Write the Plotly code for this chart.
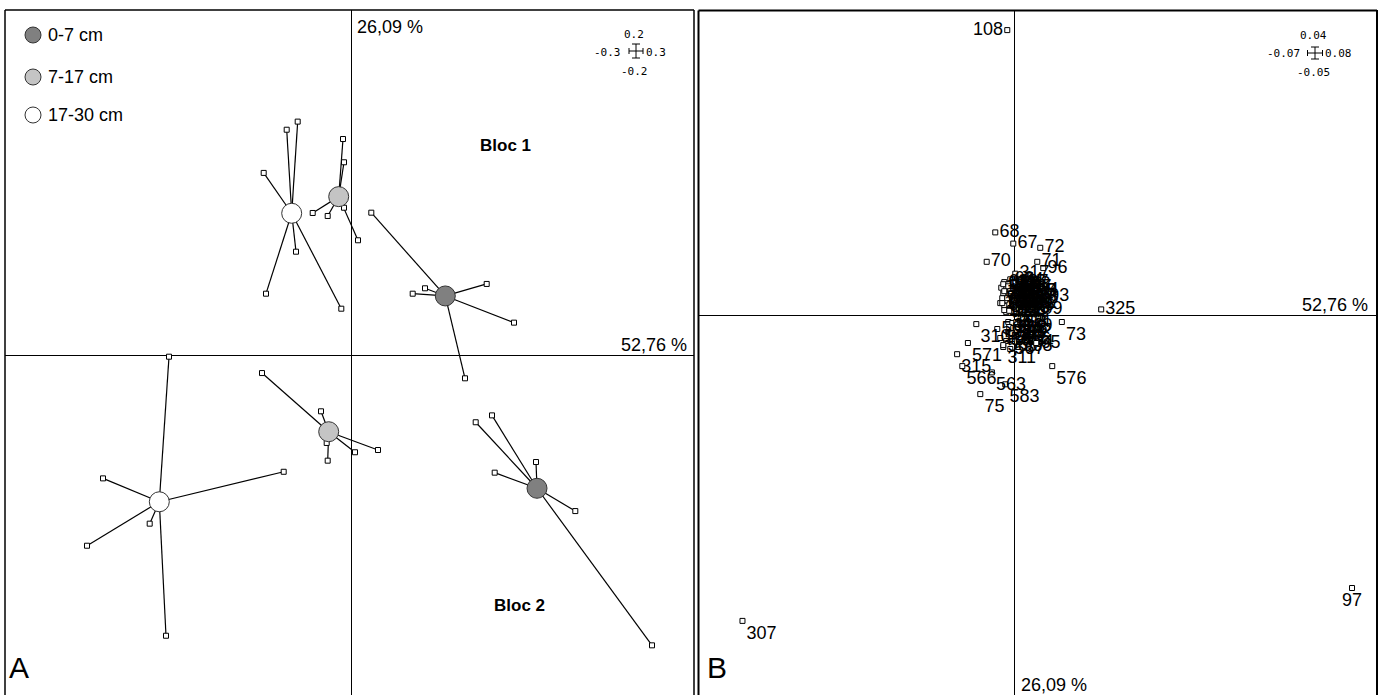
import plotly.graph_objects as go

W, H = 1380, 695

# ---------------- Panel A : s.class of samples by depth, two blocs ----------------
depths = ["0-7 cm", "7-17 cm", "17-30 cm"]
depth_colors = ["#808080", "#c4c4c4", "#ffffff"]

# Bloc 1 (upper half) -- class centres (F1, F2) for 0-7, 7-17, 17-30 cm
b1_centre_x = [0.0938, -0.0128, -0.0598]
b1_centre_y = [0.0397, 0.1059, 0.0948]
b1_d1_x = [0.0198, 0.0735, 0.0612, 0.1352, 0.1625, 0.1135]
b1_d1_y = [0.0952, 0.0448, 0.0412, 0.0477, 0.0219, -0.0152]
b1_d2_x = [-0.0085, -0.0075, -0.0388, -0.0238, -0.0075, 0.0065]
b1_d2_y = [0.1443, 0.1288, 0.0950, 0.0930, 0.0985, 0.0768]
b1_d3_x = [-0.0648, -0.0538, -0.0878, -0.0555, -0.0855, -0.0102]
b1_d3_y = [0.1505, 0.1559, 0.1217, 0.0692, 0.0412, 0.0312]

# Bloc 2 (lower half)
b2_centre_x = [0.1855, -0.0228, -0.1922]
b2_centre_y = [-0.0885, -0.0508, -0.0975]
b2_d1_x = [0.1242, 0.1405, 0.1845, 0.1432, 0.2238, 0.3005]
b2_d1_y = [-0.0445, -0.0399, -0.0710, -0.0781, -0.1037, -0.1932]
b2_d2_x = [-0.0895, -0.0305, -0.0248, -0.0238, 0.0035, 0.0265]
b2_d2_y = [-0.0117, -0.0372, -0.0583, -0.0701, -0.0645, -0.0630]
b2_d3_x = [-0.1825, -0.2485, -0.2645, -0.2018, -0.1855, -0.0678]
b2_d3_y = [-0.0008, -0.0819, -0.1268, -0.1121, -0.1868, -0.0775]

axis_pct_x = "52,76 %"
axis_pct_y = "26,09 %"

# ---------------- Panel B : s.label of rows ----------------
# outer, readable points
b_out_labels = ["108", "68", "67", "72", "70", "71", "96", "317", "197", "93", "325"]
b_out_x = [-0.00175, -0.00475, -0.00025, 0.0065, -0.0069, 0.00575, 0.00725, 0.00025, 0.0, 0.00775, 0.02175]
b_out_y = [0.0407, 0.0118, 0.0102, 0.0096, 0.0076, 0.0076, 0.0067, 0.0059, 0.0046, 0.0027, 0.0008]

# dense core above the F1 axis
b_up_labels = ["64", "69", "74", "76", "77", "78", "79", "80", "81", "82", "83", "84", "85",
               "86", "87", "88", "89", "90", "91", "92", "94", "95", "98", "99", "100",
               "102", "103", "104", "105", "106", "107", "109", "110", "111", "112",
               "113", "114", "115", "116", "117", "118", "119", "120", "121", "122",
               "123", "124", "125", "126", "127"]
b_up_x = [-0.0025, -0.001, 0.00125, -0.002, -0.00025, 0.002, -0.00275, -0.00125, 0.00075, 0.003,
          -0.00225, -0.0005, 0.0015, 0.0035, -0.0025, -0.001, 0.001, 0.00275, -0.002, 0.0, 0.002,
          0.004, 0.0045, -0.003, -0.00325,
          -0.0015, 0.0005, 0.0025, -0.0035, -0.001, 0.0015, 0.0035, -0.0025, 0.0005, 0.0025,
          -0.00275, -0.0015, -0.00025, -0.0025, -0.001, 0.00025, -0.00175, -0.00025, 0.00125, -0.00125,
          0.0005, -0.003, 0.00175, 0.0025, 0.00075]
b_up_y = [0.0047, 0.0051, 0.0049, 0.0040, 0.0037, 0.0040, 0.0031, 0.0029, 0.0031, 0.0029,
          0.0021, 0.0019, 0.0021, 0.0020, 0.0013, 0.0010, 0.0013, 0.0010, 0.0004, 0.0006, 0.0004,
          0.0014, 0.0033, 0.0024, 0.0039,
          0.0044, 0.0043, 0.0035, 0.0017, 0.0025, 0.0026, 0.0008, 0.0007, 0.0017, 0.0016,
          0.0044, 0.0041, 0.0046, 0.0034, 0.0034, 0.0027, 0.0024, 0.0014, 0.0017, 0.0006,
          0.0009, 0.0017, 0.0033, 0.0023, 0.0040]

# dense core below the F1 axis
b_low_labels = ["312", "313", "314", "52", "316", "318", "319", "62", "320", "321", "322", "63",
                "560", "561", "562", "564", "66", "565", "567", "568", "569"]
b_low_x = [-0.0015, -0.0005, 0.0005, 0.0015, -0.00125, -0.00025, 0.001, 0.002, -0.0015, -0.0005, 0.00075, 0.00175,
           -0.0035, -0.002, -0.0005, 0.00125, 0.003, -0.00275, -0.001, 0.001, -0.00425]
b_low_y = [-0.0010, -0.00114, -0.0010, -0.00114, -0.00171, -0.00186, -0.00171, -0.00186, -0.00243, -0.00257,
           -0.00243, -0.00271,
           -0.00329, -0.00371, -0.00343, -0.00386, -0.00357, -0.00457, -0.00486, -0.00457, -0.0020]

# points whose label sits below-right
b_br_labels = ["73", "310", "571", "311", "315", "566", "563", "576", "583", "75", "307"]
b_br_x = [0.0119, -0.0095, -0.0116, -0.00275, -0.0143, -0.013, -0.0056, 0.0095, -0.00225, -0.0085, -0.068]
b_br_y = [-0.0010, -0.0013, -0.0040, -0.0043, -0.0056, -0.0073, -0.0082, -0.0073, -0.0099, -0.0113, -0.0437]

b_mr_labels = ["65"]
b_mr_x = [0.0055]
b_mr_y = [-0.0040]

b_bc_labels = ["97"]
b_bc_x = [0.0845]
b_bc_y = [-0.0390]

scale_a = {"top": "0.2", "bottom": "-0.2", "left": "-0.3", "right": "0.3"}
scale_b = {"top": "0.04", "bottom": "-0.05", "left": "-0.07", "right": "0.08"}

# ---------------- figure ----------------
def px(x):
    return x / W

def py(y):
    return 1 - y / H

fig = go.Figure()

groups = [
    (b1_centre_x, b1_centre_y, [(b1_d1_x, b1_d1_y), (b1_d2_x, b1_d2_y), (b1_d3_x, b1_d3_y)]),
    (b2_centre_x, b2_centre_y, [(b2_d1_x, b2_d1_y), (b2_d2_x, b2_d2_y), (b2_d3_x, b2_d3_y)]),
]

# star segments
for cx, cy, leaves in groups:
    lx, ly = [], []
    for k, (xs, ys) in enumerate(leaves):
        for xv, yv in zip(xs, ys):
            lx += [cx[k], xv, None]
            ly += [cy[k], yv, None]
    fig.add_trace(go.Scatter(x=lx, y=ly, mode="lines", line=dict(color="black", width=1.2),
                             hoverinfo="skip", showlegend=False, xaxis="x", yaxis="y"))

sq = dict(symbol="square", size=5, color="white", line=dict(color="black", width=1))

# leaf points
for cx, cy, leaves in groups:
    for xs, ys in leaves:
        fig.add_trace(go.Scatter(x=xs, y=ys, mode="markers", marker=sq,
                                 showlegend=False, xaxis="x", yaxis="y"))

# centres
for cx, cy, leaves in groups:
    fig.add_trace(go.Scatter(x=cx, y=cy, mode="markers",
                             marker=dict(size=20, color=depth_colors,
                                         line=dict(color="#333333", width=1)),
                             showlegend=False, xaxis="x", yaxis="y"))

# Panel B labelled points
lab_font = dict(family="Liberation Sans, Arial", size=18, color="black")
for xs, ys, labs, pos in [
    (b_out_x, b_out_y, b_out_labels, ["middle left"] + ["middle right"] * (len(b_out_x) - 1)),
    (b_up_x, b_up_y, b_up_labels, "middle right"),
    (b_low_x, b_low_y, b_low_labels, "middle right"),
    (b_br_x, b_br_y, b_br_labels, "bottom right"),
    (b_mr_x, b_mr_y, b_mr_labels, "middle right"),
    (b_bc_x, b_bc_y, b_bc_labels, "bottom center"),
]:
    fig.add_trace(go.Scatter(x=xs, y=ys, mode="markers+text", text=labs, textposition=pos,
                             textfont=lab_font, marker=sq, cliponaxis=False,
                             showlegend=False, xaxis="x2", yaxis="y2"))

ax_common = dict(showgrid=False, showticklabels=False, ticks="", zeroline=True,
                 zerolinecolor="black", zerolinewidth=1.2, showline=False, fixedrange=True)

fig.update_layout(
    width=W, height=H, margin=dict(l=0, r=0, t=0, b=0),
    paper_bgcolor="white", plot_bgcolor="white",
    xaxis=dict(domain=[px(5), px(694)], range=[-0.3465, 0.3425], **ax_common),
    yaxis=dict(domain=[0, py(10)], range=[-0.2263, 0.2303], **ax_common),
    xaxis2=dict(domain=[px(698.5), px(1377)], range=[-0.079, 0.09075], anchor="y2", **ax_common),
    yaxis2=dict(domain=[0, py(10)], range=[-0.054286, 0.043571], anchor="x2", **ax_common),
    showlegend=False,
)

shapes = []
def line(x0, y0, x1, y1, w=1.5, c="black"):
    shapes.append(dict(type="line", xref="paper", yref="paper", x0=px(x0), y0=py(y0),
                       x1=px(x1), y1=py(y1), line=dict(color=c, width=w)))

# frames (bottom edges lie outside the picture)
line(5, 10, 5, 695); line(5, 10, 694, 10); line(694, 10, 694, 695)
line(698.5, 10.5, 698.5, 695, w=2); line(698.5, 10.5, 1377, 10.5, w=2); line(1377, 10, 1377, 695, w=2)

# scale crosses
def cross(cx, cy, hw, hh):
    line(cx - hw, cy, cx + hw, cy, w=1)
    line(cx - hw, cy - 3, cx - hw, cy + 3, w=1)
    line(cx + hw, cy - 3, cx + hw, cy + 3, w=1)
    line(cx, cy - hh, cx, cy + hh, w=1)
    line(cx - 4, cy - hh, cx + 4, cy - hh, w=1)
    line(cx - 4, cy + hh, cx + 4, cy + hh, w=1)

cross(636, 51, 7, 7)
cross(1315, 53, 7.5, 6)

# legend circles
leg_y = [35, 77, 115]
for k, name in enumerate(depths):
    shapes.append(dict(type="circle", xref="paper", yref="paper",
                       x0=px(25), x1=px(41), y0=py(leg_y[k] - 8), y1=py(leg_y[k] + 8),
                       fillcolor=depth_colors[k], line=dict(color="#333333", width=1)))

fig.update_layout(shapes=shapes)

ann = []
def text(x, y, s, size=18, xanchor="left", family="Liberation Sans, Arial", bold=False):
    ann.append(dict(x=px(x), y=py(y), xref="paper", yref="paper", text=f"<b>{s}</b>" if bold else s,
                    showarrow=False, xanchor=xanchor, yanchor="middle",
                    font=dict(family=family, size=size, color="black")))

for k, name in enumerate(depths):
    text(46, leg_y[k], name, size=18)

text(355, 27, axis_pct_y)
text(689, 345, axis_pct_x, xanchor="right")
text(506, 145, "Bloc 1", size=17, xanchor="center", bold=True)
text(519, 605, "Bloc 2", size=17, xanchor="center", bold=True)
text(1370, 305, axis_pct_x, xanchor="right")
text(1019, 685, axis_pct_y)
text(7, 667, "A", size=30)
text(705, 667, "B", size=30)

mono = "DejaVu Sans Mono, Liberation Mono, monospace"
def scale_labels(cx, cy, d):
    text(cx, cy - 18, d["top"], size=11, xanchor="center", family=mono)
    text(cx, cy + 20, d["bottom"], size=11, xanchor="center", family=mono)
    text(cx - 11, cy, d["left"], size=11, xanchor="right", family=mono)
    text(cx + 10, cy, d["right"], size=11, xanchor="left", family=mono)

scale_labels(634, 52, scale_a)
scale_labels(1313, 53, scale_b)

fig.update_layout(annotations=ann)
fig.write_html("out.html", config={"displayModeBar": False},
               post_script="document.body.style.margin='0';document.body.style.overflow='hidden';")
